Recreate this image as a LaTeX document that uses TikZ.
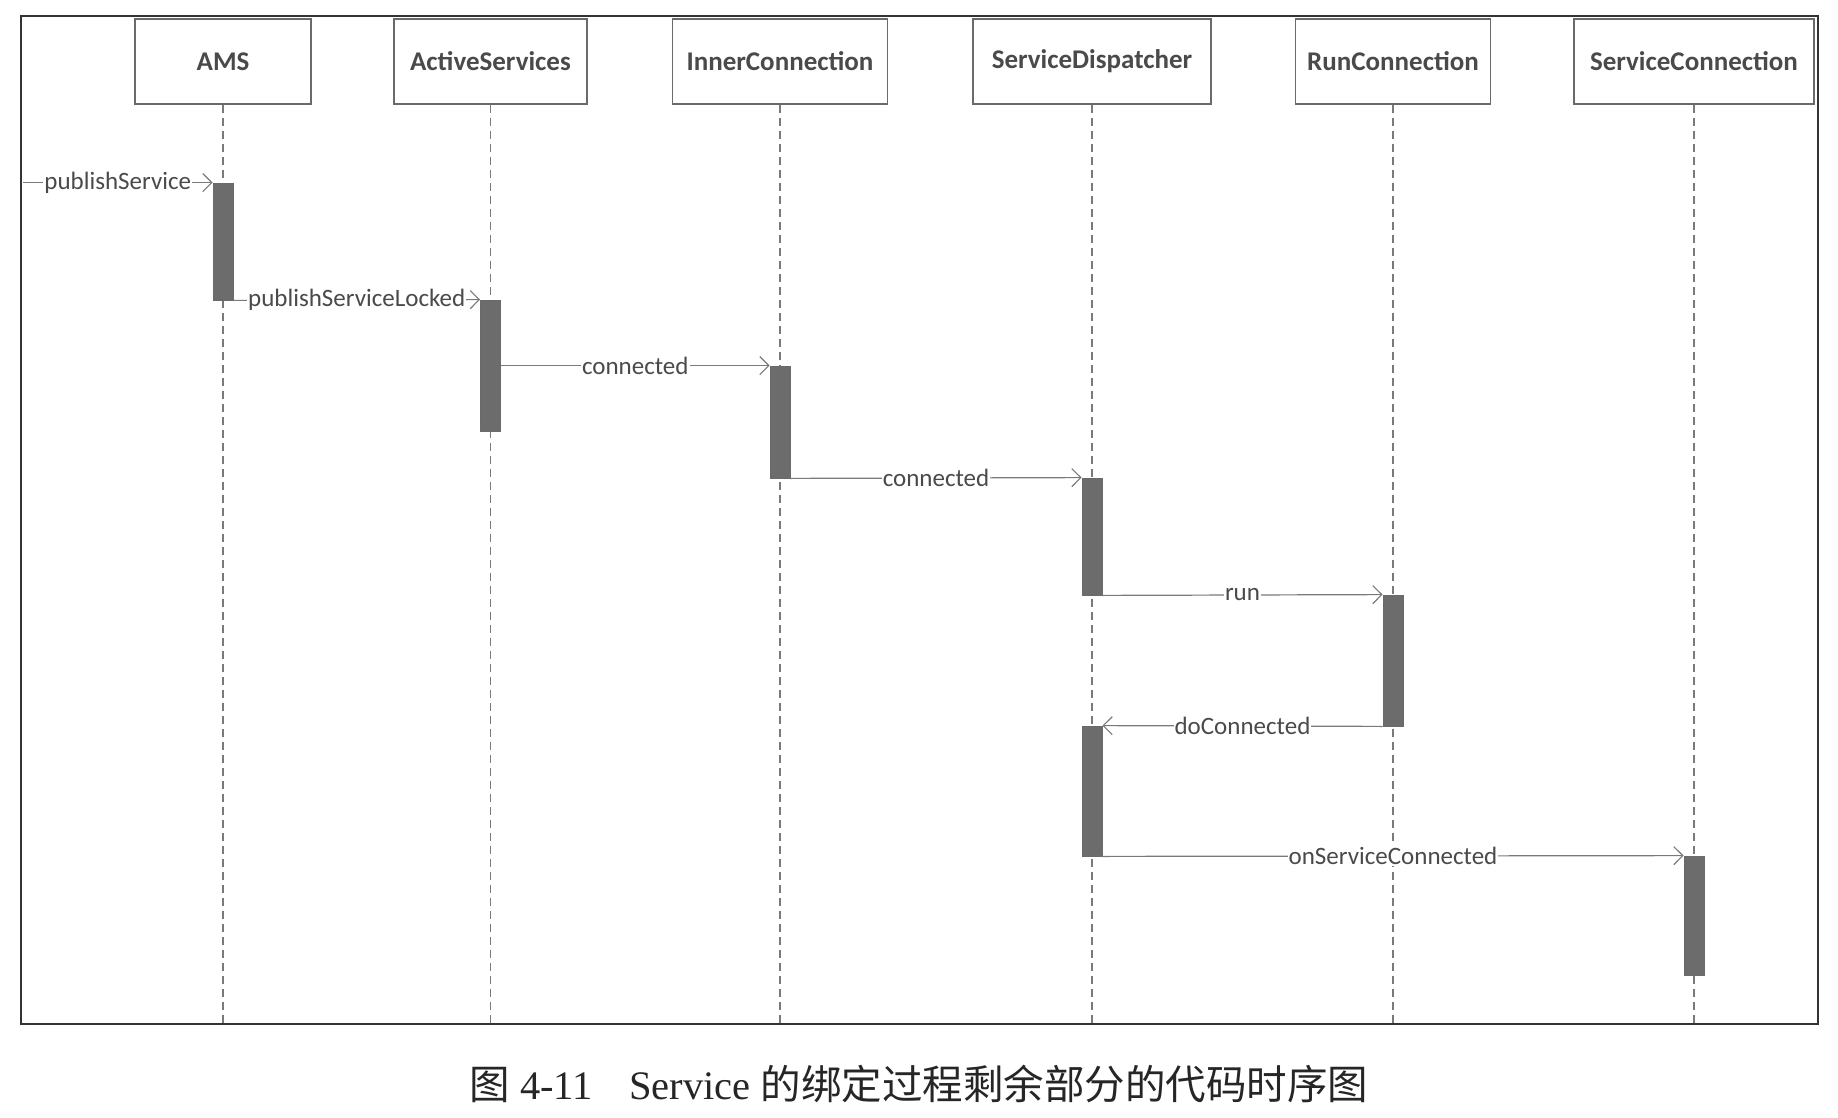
\documentclass[tikz,border=0pt]{standalone}
\usepackage{fontspec}
\setmainfont{Carlito}
\newfontfamily\cjkfont{Noto Sans CJK SC}
\newfontfamily\capserif{Liberation Serif}
\usetikzlibrary{arrows.meta}
\definecolor{txtgray}{HTML}{4A4A4A}
\definecolor{boxgray}{HTML}{6A6A6A}
\definecolor{barfill}{HTML}{6C6C6C}
\definecolor{linegray}{HTML}{7A7A7A}
\begin{document}
\begin{tikzpicture}[x=1pt,y=-1pt,
  hdr/.style={draw=boxgray, line width=1.3pt, minimum height=85pt, inner sep=0pt,
    text=txtgray, font=\fontsize{27}{31}\selectfont\bfseries},
  life/.style={draw=linegray, line width=1.1pt, dash pattern=on 8pt off 5pt},
  actbar/.style={draw=boxgray, fill=barfill, line width=0.8pt, minimum width=20pt, inner sep=0pt},
  msg/.style={draw=linegray, line width=1.2pt, -{Straight Barb[length=9pt,width=18pt,line width=1.2pt]}},
  lbl/.style={fill=white, inner sep=1pt, text=txtgray, font=\fontsize{25}{29}\selectfont}
]
\useasboundingbox[fill=white] (0,0) rectangle (1838,1118);
% frame
\draw[line width=2pt, draw=black!80] (21,16) rectangle (1818,1024);
\coordinate (fbottom) at (0,1024);
\coordinate (fleft) at (23,0);
% headers
\node[hdr, minimum width=176pt] (ams) at (223,61.5) {AMS};
\node[hdr, minimum width=193pt] (as) at (490.5,61.5) {ActiveServices};
\node[hdr, minimum width=215pt] (ic) at (780,61.5) {InnerConnection};
\node[hdr, minimum width=238pt] (sd) at (1092,61.5) {ServiceDispatcher};
\node[hdr, minimum width=195pt] (rc) at (1393,61.5) {RunConnection};
\node[hdr, minimum width=240pt] (sc) at (1694,61.5) {ServiceConnection};
% lifelines
\foreach \n in {ams,as,ic,sd,rc,sc}{
  \draw[life] (\n.south) -- (\n.south |- fbottom);
}
% activation bars
\node[actbar, minimum height=117pt] (b1) at (223,241.5) {};
\node[actbar, minimum height=131pt] (b2) at (490.5,365.5) {};
\node[actbar, minimum height=112pt] (b3) at (780,422) {};
\node[actbar, minimum height=117pt] (b4) at (1092,536.5) {};
\node[actbar, minimum height=131pt] (b5) at (1393,660.5) {};
\node[actbar, minimum height=130pt] (b6) at (1092,791) {};
\node[actbar, minimum height=119pt] (b7) at (1694,915.5) {};
% messages
\coordinate (start) at (fleft |- b1.north);
\draw[msg] (start) -- node[lbl, pos=0.5] {publishService} (b1.north west);
\draw[msg] (b1.south east) -- node[lbl] {publishServiceLocked} (b2.north west);
\draw[msg] (b2.east |- b3.north) -- node[lbl] {connected} (b3.north west);
\draw[msg] (b3.south east) -- node[lbl] {connected} (b4.north west);
\draw[msg] (b4.south east) -- node[lbl] {run} (b5.north west);
\draw[msg] (b5.south west) -- node[lbl] {doConnected} (b6.north east);
\draw[msg] (b6.south east) -- node[lbl] {onServiceConnected} (b7.north west);
% caption
\node[inner sep=0pt, text=black!85] (cap) at (919,1084)
  {\fontsize{40.5}{44}\selectfont\cjkfont 图\capserif\ 4-11\hspace{0.9em}Service\ \cjkfont 的绑定过程剩余部分的代码时序图};
\end{tikzpicture}
\end{document}
